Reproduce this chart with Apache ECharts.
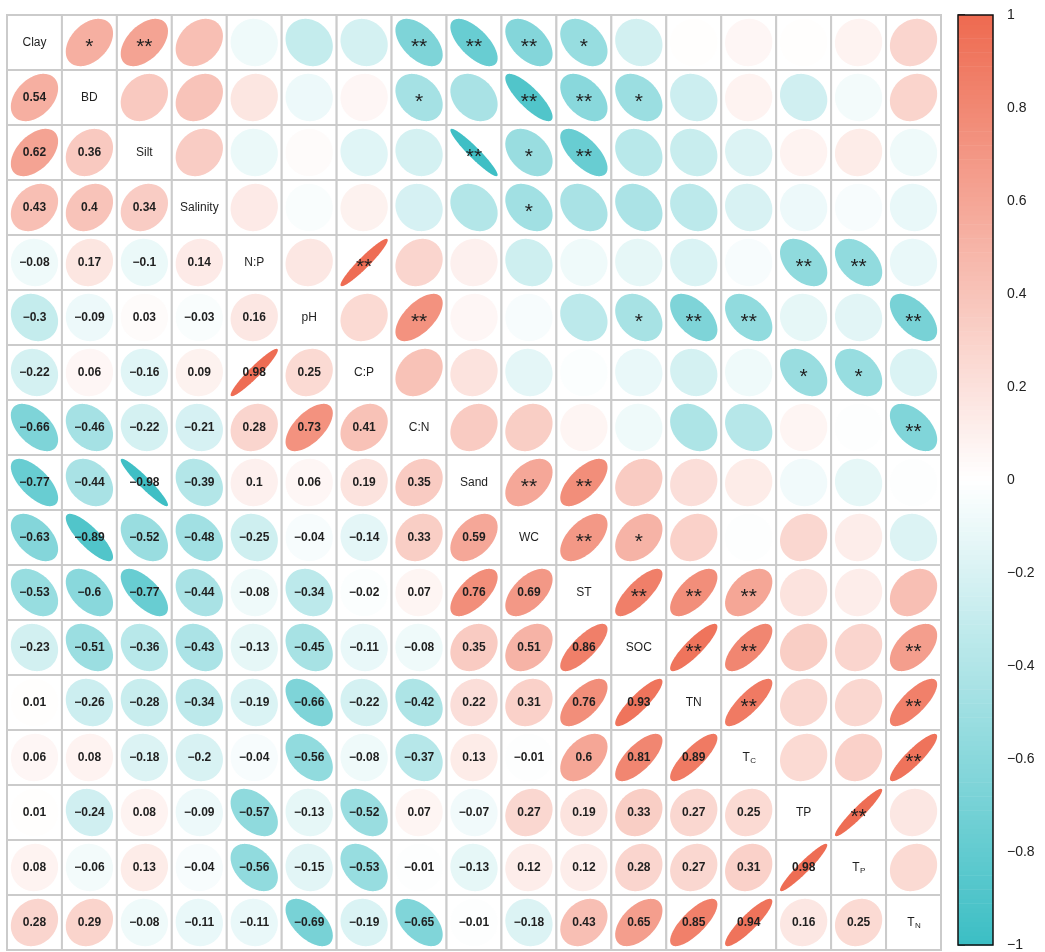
<!DOCTYPE html>
<html>
<head>
<meta charset="utf-8">
<script src="https://cdn.jsdelivr.net/npm/echarts@6/dist/echarts.min.js"></script>
<style>
  html, body { margin: 0; padding: 0; background: #fff; }
  #chart { width: 1045px; height: 952px; }
</style>
</head>
<body>
<div id="chart"></div>
<script>
// Soil / nutrient variables, in plotting order
const variables = ['Clay', 'BD', 'Silt', 'Salinity', 'N:P', 'pH', 'C:P', 'C:N', 'Sand',
  'WC', 'ST', 'SOC', 'TN', 'T_C', 'TP', 'T_P', 'T_N'];

// Pearson r, lower triangle (each row against the variables before it)
const rBD       = [0.54];
const rSilt     = [0.62, 0.36];
const rSalinity = [0.43, 0.4, 0.34];
const rNP       = [-0.08, 0.17, -0.1, 0.14];
const rPH       = [-0.3, -0.09, 0.03, -0.03, 0.16];
const rCP       = [-0.22, 0.06, -0.16, 0.09, 0.98, 0.25];
const rCN       = [-0.66, -0.46, -0.22, -0.21, 0.28, 0.73, 0.41];
const rSand     = [-0.77, -0.44, -0.98, -0.39, 0.1, 0.06, 0.19, 0.35];
const rWC       = [-0.63, -0.89, -0.52, -0.48, -0.25, -0.04, -0.14, 0.33, 0.59];
const rST       = [-0.53, -0.6, -0.77, -0.44, -0.08, -0.34, -0.02, 0.07, 0.76, 0.69];
const rSOC      = [-0.23, -0.51, -0.36, -0.43, -0.13, -0.45, -0.11, -0.08, 0.35, 0.51, 0.86];
const rTN       = [0.01, -0.26, -0.28, -0.34, -0.19, -0.66, -0.22, -0.42, 0.22, 0.31, 0.76, 0.93];
const rTC_      = [0.06, 0.08, -0.18, -0.2, -0.04, -0.56, -0.08, -0.37, 0.13, -0.01, 0.6, 0.81, 0.89];
const rTP       = [0.01, -0.24, 0.08, -0.09, -0.57, -0.13, -0.52, 0.07, -0.07, 0.27, 0.19, 0.33, 0.27, 0.25];
const rTP_      = [0.08, -0.06, 0.13, -0.04, -0.56, -0.15, -0.53, -0.01, -0.13, 0.12, 0.12, 0.28, 0.27, 0.31, 0.98];
const rTN_      = [0.28, 0.29, -0.08, -0.11, -0.11, -0.69, -0.19, -0.65, -0.01, -0.18, 0.43, 0.65, 0.85, 0.94, 0.16, 0.25];
const lowerRows = [[], rBD, rSilt, rSalinity, rNP, rPH, rCP, rCN, rSand, rWC, rST, rSOC, rTN, rTC_, rTP, rTP_, rTN_];

// Significance marks (* p<0.05, ** p<0.01) shown in the upper triangle: [row, column, mark]
const sigMarks = [
  ['Clay', 'BD', '*'], ['Clay', 'Silt', '**'], ['Clay', 'C:N', '**'], ['Clay', 'Sand', '**'],
  ['Clay', 'WC', '**'], ['Clay', 'ST', '*'],
  ['BD', 'C:N', '*'], ['BD', 'WC', '**'], ['BD', 'ST', '**'], ['BD', 'SOC', '*'],
  ['Silt', 'Sand', '**'], ['Silt', 'WC', '*'], ['Silt', 'ST', '**'],
  ['Salinity', 'WC', '*'],
  ['N:P', 'C:P', '**'], ['N:P', 'TP', '**'], ['N:P', 'T_P', '**'],
  ['pH', 'C:N', '**'], ['pH', 'SOC', '*'], ['pH', 'TN', '**'], ['pH', 'T_C', '**'], ['pH', 'T_N', '**'],
  ['C:P', 'TP', '*'], ['C:P', 'T_P', '*'],
  ['C:N', 'T_N', '**'],
  ['Sand', 'WC', '**'], ['Sand', 'ST', '**'],
  ['WC', 'ST', '**'], ['WC', 'SOC', '*'],
  ['ST', 'SOC', '**'], ['ST', 'TN', '**'], ['ST', 'T_C', '**'],
  ['SOC', 'TN', '**'], ['SOC', 'T_C', '**'], ['SOC', 'T_N', '**'],
  ['TN', 'T_C', '**'], ['TN', 'T_N', '**'],
  ['T_C', 'T_N', '**'],
  ['TP', 'T_P', '**']
];

// Colour bar ticks
const barTicks = [-1, -0.8, -0.6, -0.4, -0.2, 0, 0.2, 0.4, 0.6, 0.8, 1];

// ---- build cell table ----
const n = variables.length;
function corr(i, j) {
  if (i === j) return 1;
  return i > j ? lowerRows[i][j] : lowerRows[j][i];
}
const markLookup = {};
sigMarks.forEach(([a, b, m]) => { markLookup[variables.indexOf(a) + '_' + variables.indexOf(b)] = m; });

const cells = [];
for (let i = 0; i < n; i++) {
  for (let j = 0; j < n; j++) {
    const kind = i === j ? 0 : (i > j ? 1 : 2);
    cells.push([j, i, corr(i, j), kind, markLookup[i + '_' + j] || '']);
  }
}

// ---- colour palette: teal -> white -> coral ----
const NEG = [59, 190, 196];
const POS = [238, 106, 80];
function colorFor(r) {
  const t = Math.min(1, Math.abs(r));
  const end = r < 0 ? NEG : POS;
  const c = end.map(v => Math.round(255 + (v - 255) * t));
  return 'rgb(' + c.join(',') + ')';
}

function fmt(r) {
  const s = String(Math.abs(r));
  return (r < 0 ? '\u2212' : '') + s;
}

const FONT = '"Liberation Sans", Arial, Helvetica, sans-serif';
const INK = '#1f1f1f';

// Ellipse outline; eccentricity grows with |r|, kept slightly open so strong pairs stay visible
function ellipsePoints(r, cx, cy, w, h) {
  const rho = Math.sign(r) * Math.pow(Math.abs(r), 1.5) * 0.975;
  const d = Math.acos(Math.max(-1, Math.min(1, rho)));
  const pts = [];
  const sx = 0.86 * w / 2, sy = 0.86 * h / 2;
  for (let k = 0; k < 120; k++) {
    const a = 2 * Math.PI * k / 120;
    pts.push([cx + sx * Math.cos(a + d / 2), cy - sy * Math.cos(a - d / 2)]);
  }
  return pts;
}

function labelElements(name, cx, cy) {
  const m = name.match(/^T_(.)$/);
  if (m) {
    return [
      { type: 'text', style: { text: 'T', x: cx + 1, y: cy, fill: INK, font: '12px ' + FONT, textAlign: 'right', textVerticalAlign: 'middle' } },
      { type: 'text', style: { text: m[1], x: cx + 1.5, y: cy + 3.5, fill: INK, font: '8px ' + FONT, textAlign: 'left', textVerticalAlign: 'middle' } }
    ];
  }
  return [{ type: 'text', style: { text: name, x: cx, y: cy, fill: INK, font: '12px ' + FONT, textAlign: 'center', textVerticalAlign: 'middle' } }];
}

function renderCell(params, api) {
  const col = api.value(0), row = api.value(1), r = api.value(2), kind = api.value(3);
  const mark = cells[params.dataIndex][4];
  const c = api.coord([col, row]);
  const sz = api.size([1, 1]);
  const w = sz[0], h = sz[1];
  const children = [{
    type: 'rect',
    shape: { x: c[0] - w / 2, y: c[1] - h / 2, width: w, height: h },
    style: { fill: '#fff', stroke: '#cbcbcb', lineWidth: 2 }
  }];
  if (kind === 0) {
    children.push(...labelElements(variables[row], c[0], c[1]));
  } else {
    children.push({
      type: 'polygon',
      shape: { points: ellipsePoints(r, c[0], c[1], w, h) },
      style: { fill: colorFor(r) }
    });
    if (kind === 1) {
      children.push({ type: 'text', style: { text: fmt(r), x: c[0], y: c[1], fill: INK, font: 'bold 12px ' + FONT, textAlign: 'center', textVerticalAlign: 'middle' } });
    } else if (mark) {
      children.push({ type: 'text', style: { text: mark, x: c[0], y: c[1] + 5, fill: INK, font: '21px ' + FONT, textAlign: 'center', textVerticalAlign: 'middle' } });
    }
  }
  return { type: 'group', children };
}

// colour bar drawn as thin bands on its own value axis
const BANDS = 200;
function renderBar(params, api) {
  const children = [];
  const left = api.coord([0, 0])[0], right = api.coord([1, 0])[0];
  for (let b = 0; b < BANDS; b++) {
    const lo = -1 + 2 * b / BANDS, hi = -1 + 2 * (b + 1) / BANDS;
    const y1 = api.coord([0, hi])[1], y2 = api.coord([0, lo])[1];
    children.push({
      type: 'rect',
      shape: { x: left, y: y1, width: right - left, height: y2 - y1 + 0.6 },
      style: { fill: colorFor((lo + hi) / 2) }
    });
  }
  const top = api.coord([0, 1])[1], bottom = api.coord([0, -1])[1];
  children.push({
    type: 'rect',
    shape: { x: left, y: top, width: right - left, height: bottom - top },
    style: { fill: 'none', stroke: '#111', lineWidth: 1.5 }
  });
  return { type: 'group', children };
}

const chart = echarts.init(document.getElementById('chart'), null, { renderer: 'canvas' });
chart.setOption({
  animation: false,
  backgroundColor: '#fff',
  grid: [
    { left: 7, top: 15, width: 934, height: 935 },
    { left: 958, top: 15, width: 35, height: 934 }
  ],
  xAxis: [
    { type: 'category', gridIndex: 0, data: variables, show: false },
    { type: 'value', gridIndex: 1, min: 0, max: 1, show: false }
  ],
  yAxis: [
    { type: 'category', gridIndex: 0, data: variables, inverse: true, show: false },
    {
      type: 'value', gridIndex: 1, min: -1, max: 1, interval: 0.2, position: 'right',
      axisLine: { show: false },
      axisTick: { show: true, length: 7, lineStyle: { color: '#111', width: 1.5 } },
      splitLine: { show: false },
      axisLabel: {
        show: true, margin: 14, fontSize: 14, color: '#222', fontFamily: FONT,
        formatter: v => {
          const t = barTicks.find(x => Math.abs(x - v) < 1e-6);
          return t === undefined ? '' : fmt(t);
        }
      }
    }
  ],
  series: [
    {
      type: 'custom', xAxisIndex: 0, yAxisIndex: 0,
      renderItem: renderCell,
      data: cells,
      encode: { x: 0, y: 1 },
      clip: false
    },
    {
      type: 'custom', xAxisIndex: 1, yAxisIndex: 1,
      renderItem: renderBar,
      data: [[0.5, 0]],
      clip: false, z: 3
    }
  ]
});
</script>
</body>
</html>
